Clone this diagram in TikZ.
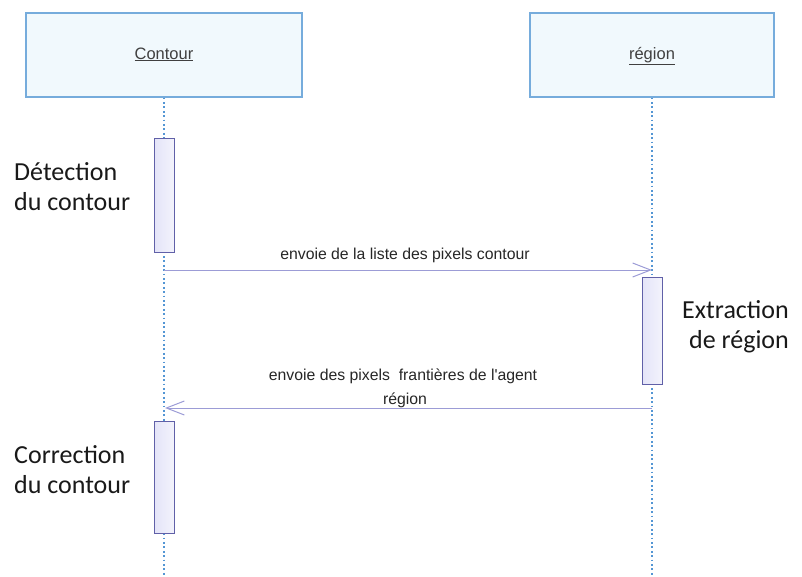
\documentclass[tikz,border=0pt]{standalone}
\usepackage{fontspec}
\setmainfont{Carlito}
\newfontfamily\msgfont{Liberation Sans}
\usetikzlibrary{arrows.meta, positioning}
\definecolor{lifebox}{RGB}{241,249,253}
\definecolor{lifeborder}{RGB}{118,172,220}
\definecolor{lifeblue}{RGB}{84,150,212}
\definecolor{actfill}{RGB}{228,228,248}
\definecolor{actborder}{RGB}{96,96,168}
\definecolor{msgline}{RGB}{156,156,214}

\begin{document}
\begin{tikzpicture}[
    x=1pt, y=-1pt,
    object/.style={draw=lifeborder, fill=lifebox, line width=1.3pt, minimum height=84pt, text height=11pt, text depth=3pt, font=\msgfont\fontsize{16.5}{19}\selectfont, text=black!75},
    activation/.style={draw=actborder, left color=actfill, right color=actfill!45, line width=0.9pt, minimum width=20pt, inner sep=0pt},
    lifeline/.style={draw=lifeblue, line width=1.2pt, dash pattern=on 1.8pt off 2.6pt},
    message/.style={draw=msgline, line width=1pt, -{Straight Barb[length=18pt, width=14pt, line width=1pt]}},
    msglabel/.style={font=\msgfont\fontsize{15.8}{18}\selectfont, text=black!85, inner sep=1pt},
    note/.style={font=\fontsize{26}{30}\selectfont, text=black!90, inner sep=0pt}
]
\useasboundingbox (0,0) rectangle (802,576);

% Objets
\node[object, minimum width=276pt] (contour) at (164,55) {\underline{Contour}};
\node[object, minimum width=244pt] (region) at (652,55) {\underline{région}};

% Lignes de vie
\coordinate (contourend) at (164,576);
\coordinate (regionend) at (652,576);
\draw[lifeline] (contour.south) -- (contourend);
\draw[lifeline] (region.south) -- (regionend);

% Activations
\node[activation, minimum height=114pt] (act1) at (164,195) {};
\node[activation, minimum height=107pt] (act2) at (652,330.5) {};
\node[activation, minimum height=112pt] (act3) at (164,477) {};

\node[note, anchor=west, align=left] (detect) at (14,187) {Détection\\du contour};
\node[note, anchor=east, align=right] (extract) at (789,327) {Extraction\\de région};
\node[note, anchor=west, align=left] (correct) at (14,470) {Correction\\du contour};

% Messages
\coordinate (m1s) at (164,270);
\coordinate (m1e) at (652,270);
\draw[message] (m1s) -- (m1e);
\node[msglabel] (msg1) at (405,255) {envoie de la liste des pixels contour};

\coordinate (m2s) at (652,408);
\coordinate (m2e) at (165,408);
\draw[message] (m2s) -- (m2e);
\node[msglabel] (msg2a) at (403,376) {envoie des pixels\ \ frantières de l'agent};
\node[msglabel, fill=white, inner xsep=3pt] (msg2b) at (405,400) {région};

\end{tikzpicture}
\end{document}
